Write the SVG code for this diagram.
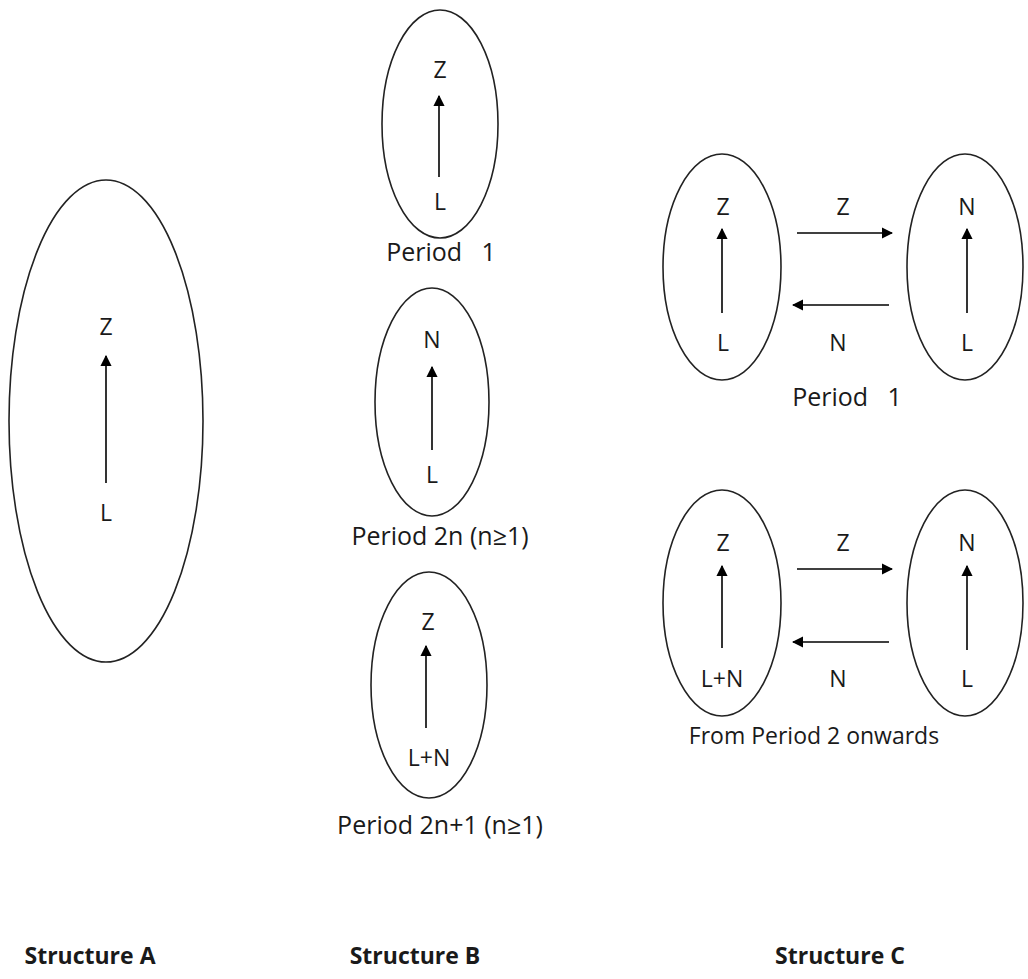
<svg xmlns="http://www.w3.org/2000/svg" width="1028" height="979" viewBox="0 0 1028 979">
<style>
.node ellipse{fill:none;stroke:#222;stroke-width:1.6}
text{font-family:"Open Sans","Liberation Sans",sans-serif;font-size:23px;fill:#1a1a1a;text-anchor:middle;white-space:pre}
.per{font-size:25px}
.lbl{font-weight:bold;font-size:23px}
.conn line{stroke:#000;stroke-width:1.6;marker-end:url(#ah)}
</style>
<defs>
<marker id="ah" viewBox="0 0 10 10" refX="9" refY="5" markerWidth="7" markerHeight="7" markerUnits="strokeWidth" orient="auto">
<path d="M0,0 L10,5 L0,10 z" fill="#000"/>
</marker>
</defs>
<rect width="1028" height="979" fill="#fff"/>

<g id="structA">
<g class="node" id="A1"><ellipse cx="106" cy="421" rx="97" ry="241"/>
<text x="106" y="335">Z</text><text x="106" y="521">L</text></g>
<text x="90" y="964" class="lbl">Structure A</text>
</g>

<g id="structB">
<g class="node" id="B1"><ellipse cx="440" cy="124" rx="58" ry="114"/>
<text x="440" y="78">Z</text><text x="440" y="210">L</text>
<text x="441" y="261" class="per">Period   1</text></g>
<g class="node" id="B2"><ellipse cx="432" cy="402" rx="57" ry="114"/>
<text x="432" y="348">N</text><text x="432" y="483">L</text>
<text x="440" y="545" class="per">Period 2n (n≥1)</text></g>
<g class="node" id="B3"><ellipse cx="429" cy="685" rx="58" ry="113"/>
<text x="428" y="630">Z</text><text x="429" y="766">L+N</text>
<text x="440" y="834" class="per">Period 2n+1 (n≥1)</text></g>
<text x="415" y="964" class="lbl">Structure B</text>
</g>

<g id="structC">
<g class="node" id="C1"><ellipse cx="722" cy="267" rx="59" ry="113"/>
<text x="723" y="215">Z</text><text x="723" y="351">L</text></g>
<g class="node" id="C2"><ellipse cx="965" cy="267" rx="58" ry="113"/>
<text x="967" y="215">N</text><text x="967" y="351">L</text></g>
<text x="843" y="215">Z</text><text x="838" y="351">N</text>
<text x="847" y="406" class="per">Period   1</text>
<g class="node" id="C3"><ellipse cx="722" cy="603" rx="59" ry="113"/>
<text x="723" y="551">Z</text><text x="722" y="687">L+N</text></g>
<g class="node" id="C4"><ellipse cx="965" cy="603" rx="58" ry="113"/>
<text x="967" y="551">N</text><text x="967" y="687">L</text></g>
<text x="843" y="551">Z</text><text x="838" y="687">N</text>
<text x="814" y="744">From Period 2 onwards</text>
<text x="840" y="964" class="lbl">Structure C</text>
</g>

<g class="conn" id="connectors">
<line x1="106" y1="483" x2="106" y2="356"/>
<line x1="439" y1="177" x2="439" y2="96"/>
<line x1="432" y1="450" x2="432" y2="367"/>
<line x1="426" y1="728" x2="426" y2="646"/>
<line x1="722" y1="313" x2="722" y2="229"/>
<line x1="967" y1="313" x2="967" y2="229"/>
<line x1="797" y1="233" x2="892" y2="233"/>
<line x1="889" y1="305" x2="793" y2="305"/>
<line x1="722" y1="648" x2="722" y2="566"/>
<line x1="967" y1="650" x2="967" y2="566"/>
<line x1="797" y1="569" x2="892" y2="569"/>
<line x1="889" y1="642" x2="793" y2="642"/>
</g>
</svg>
